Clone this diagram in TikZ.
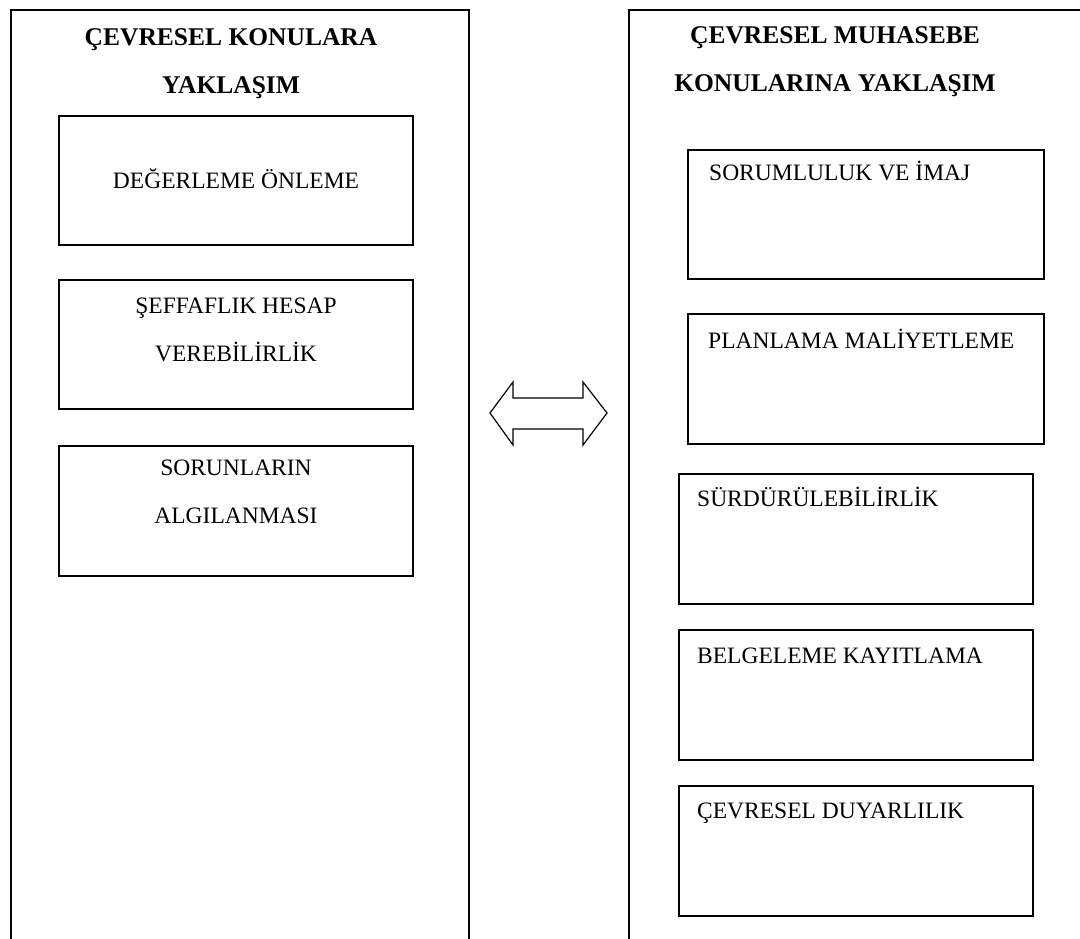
\documentclass[tikz,border=0pt]{standalone}
\usepackage{fontspec}
\setmainfont{Liberation Serif}
\usetikzlibrary{positioning}
\tikzset{
  frame/.style={rectangle, draw, line width=2pt, anchor=north west, minimum width=458pt, minimum height=960pt},
  title/.style={font=\bfseries\fontsize{25.5}{48}\selectfont, align=center, inner sep=0pt, anchor=north},
  box/.style={rectangle, draw, line width=2pt, anchor=north west, minimum width=354pt, minimum height=129pt},
  boxtext/.style={font=\fontsize{23.5}{48}\selectfont, align=center, inner sep=0pt},
  bothways/.style={draw, line width=1.2pt, line join=miter},
}

\begin{document}
\begin{tikzpicture}[x=1pt, y=-1pt]
  \useasboundingbox (0,0) rectangle (1080,939);
  \clip (0,0) rectangle (1080,939);

  % the two columns
  \node[frame] (lframe) at (10,9) {};
  \node[frame, minimum width=480pt] (rframe) at (628,9) {};
  \node[title] (ltitle) at (231,28) {ÇEVRESEL KONULARA\\YAKLAŞIM};
  \node[title] (rtitle) at (835,26) {ÇEVRESEL MUHASEBE\\KONULARINA YAKLAŞIM};

  % left column
  \node[box] (lb1) at (58,115) {};
  \node[box] (lb2) at (58,279) {};
  \node[box, minimum height=130pt] (lb3) at (58,445) {};
  \node[boxtext, anchor=base] (lt1) at ([shift={(0,74)}]lb1.north) {DEĞERLEME ÖNLEME};
  \node[boxtext, below=19pt of lb2.north] (lt2) {ŞEFFAFLIK HESAP\\VEREBİLİRLİK};
  \node[boxtext, below=15pt of lb3.north] (lt3) {SORUNLARIN\\ALGILANMASI};

  % right column
  \node[box, minimum width=356pt] (rb1) at (687,149) {};
  \node[box, minimum width=356pt, minimum height=130pt] (rb2) at (687,313) {};
  \node[box, minimum height=130pt] (rb3) at (678,473) {};
  \node[box, minimum height=130pt] (rb4) at (678,629) {};
  \node[box, minimum height=130pt] (rb5) at (678,785) {};
  \node[boxtext, anchor=base west] (rt1) at ([shift={(22,32)}]rb1.north west) {SORUMLULUK VE İMAJ};
  \node[boxtext, anchor=base west] (rt2) at ([shift={(21,35)}]rb2.north west) {PLANLAMA MALİYETLEME};
  \node[boxtext, anchor=base west] (rt3) at ([shift={(19,33)}]rb3.north west) {SÜRDÜRÜLEBİLİRLİK};
  \node[boxtext, anchor=base west] (rt4) at ([shift={(19,34)}]rb4.north west) {BELGELEME KAYITLAMA};
  \node[boxtext, anchor=base west] (rt5) at ([shift={(19,33)}]rb5.north west) {ÇEVRESEL DUYARLILIK};

  % two-way arrow between the columns
  \draw[bothways] (490,413) -- (513,382) -- (513,398) -- (583,398) -- (583,382)
    -- (607,413) -- (583,445) -- (583,429) -- (513,429) -- (513,445) -- cycle;
\end{tikzpicture}
\end{document}
